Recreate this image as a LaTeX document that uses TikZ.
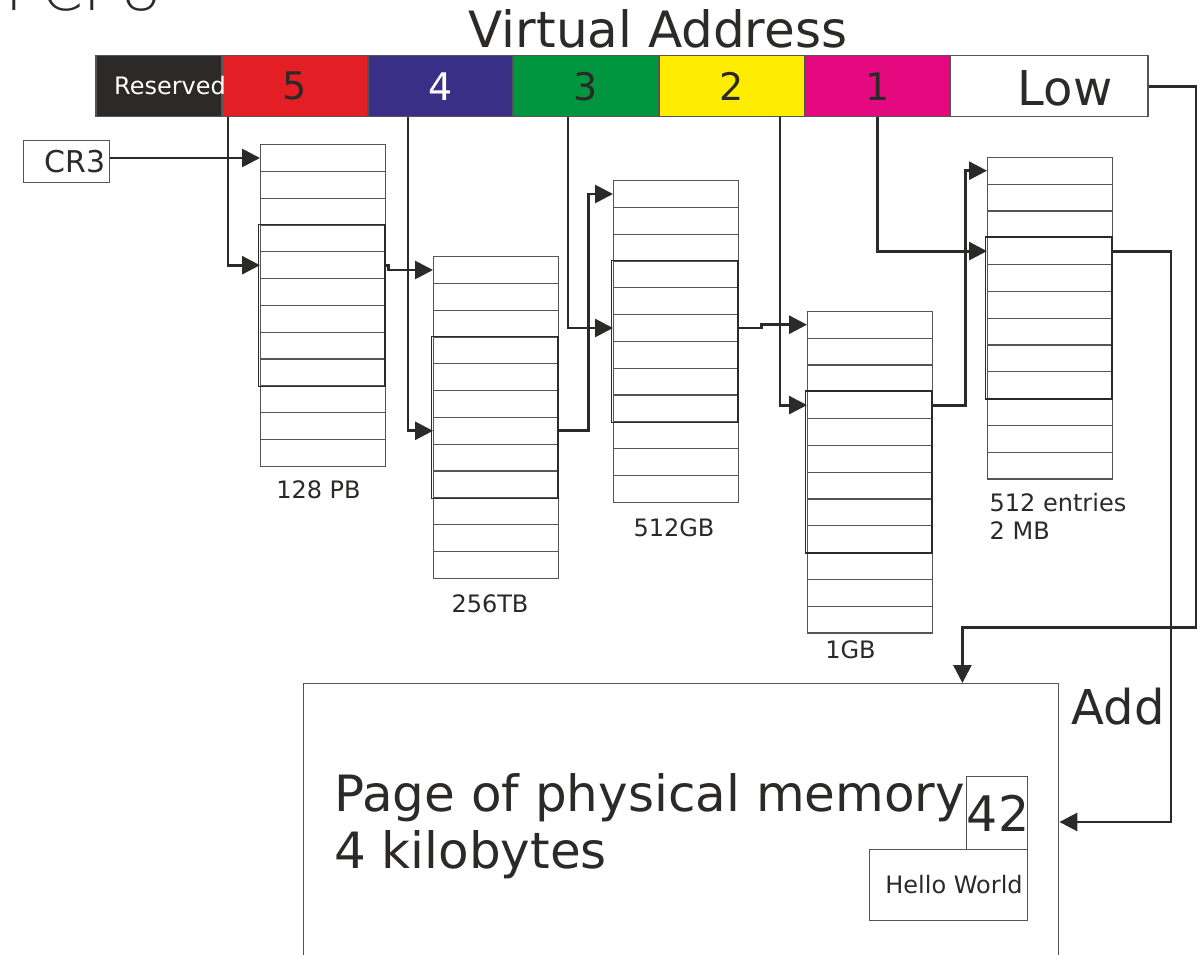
\documentclass[tikz,border=0pt]{standalone}
\usepackage{fontspec}
\setmainfont{DejaVu Sans}
\newfontfamily\thinfont{DejaVu Sans ExtraLight}
\usetikzlibrary{arrows.meta}

\definecolor{ink}{HTML}{2B2A29}
\definecolor{rule}{HTML}{555555}
\definecolor{lvlfive}{HTML}{E31E24}
\definecolor{lvlfour}{HTML}{3A2F86}
\definecolor{lvlthree}{HTML}{009640}
\definecolor{lvltwo}{HTML}{FFED00}
\definecolor{lvlone}{HTML}{E5097F}

\newcommand{\sz}[2]{\fontsize{#1}{#2}\selectfont}

\tikzset{
  seg/.style={draw=rule, line width=1.5pt, minimum height=61pt, inner sep=0pt, anchor=north west},
  entry/.style={draw=rule, line width=1.2pt, minimum width=125pt, minimum height=26.8pt, inner sep=0pt, anchor=north west},
  frame/.style={draw=ink, line width=1.5pt},
  conn/.style={draw=ink, line width=2.8pt, -{Triangle[length=18pt,width=18pt]}},
  box/.style={draw=rule, line width=1.4pt, inner sep=0pt, anchor=north west},
  lbl/.style={text=ink, inner sep=0pt, anchor=base},
}

\begin{document}
\begin{tikzpicture}[x=1pt, y=-1pt]
  \path[use as bounding box, fill=white] (0,0) rectangle (1202,955);

  % cut-off heading and title
  \node[lbl, anchor=base west] (head) at (5,11) {\thinfont\sz{60}{60}PCPU};
  \node[lbl] (title) at (658,48) {\sz{50}{50}Virtual Address};

  % the virtual address, one field per level
  \node[seg, fill=ink, minimum width=126pt] (res) at (95,55) {};
  \node[seg, fill=lvlfive, minimum width=146pt, text=ink] (f5) at (221,55) {\sz{38}{38}5};
  \node[seg, fill=lvlfour, minimum width=145pt, text=white] (f4) at (367,55) {\sz{38}{38}4};
  \node[seg, fill=lvlthree, minimum width=146pt, text=ink] (f3) at (512,55) {\sz{38}{38}3};
  \node[seg, fill=lvltwo, minimum width=146pt, text=ink] (f2) at (658,55) {\sz{38}{38}2};
  \node[seg, fill=lvlone, minimum width=145pt, text=ink] (f1) at (804,55) {\sz{38}{38}1};
  \node[seg, fill=white, minimum width=198pt] (low) at (949,55) {};
  \node[lbl, anchor=base west, text=white] (restext) at (114,95) {\sz{24}{24}Reserved};
  \node[lbl] (lowtext) at (1065,106) {\sz{48}{48}Low};

  % CR3
  \node[box, minimum width=86pt, minimum height=42pt, text width=78pt, inner xsep=4pt, align=right, text=ink] (cr3) at (23,140) {\sz{30}{30}CR3};

  % page tables, 12 entries each
  \foreach \t/\x/\y in {A/260/144, B/433/256, C/613/180, D/807/310.7, E/987/156.7} {
    \foreach \r in {1,...,12}
      \node[entry] (\t-\r) at (\x,{\y+26.8*(\r-1)}) {};
    \draw[frame] ([xshift=-1.3pt]\t-4.north west) rectangle ([xshift=-1.3pt]\t-9.south east);
  }

  \node[lbl] (sizeA) at (318.5,498) {\sz{24}{24}128 PB};
  \node[lbl] (sizeB) at (490,612) {\sz{24}{24}256TB};
  \node[lbl] (sizeC) at (674,536) {\sz{24}{24}512GB};
  \node[lbl] (sizeD) at (850.5,658) {\sz{24}{24}1GB};
  \node[lbl, anchor=base west] (sizeE) at (989.5,511) {\sz{24}{24}512 entries};
  \node[lbl, anchor=base west] (sizeEb) at (989.5,539) {\sz{24}{24}2 MB};

  % physical page
  \node[box, minimum width=755pt, minimum height=340pt] (page) at (303,683) {};
  \node[lbl, anchor=base west] (pagetext) at (334,811.7) {\sz{50}{50}Page of physical memory};
  \node[lbl, anchor=base west] (pagesize) at (334,868) {\sz{50}{50}4 kilobytes};
  \node[box, minimum width=61pt, minimum height=73pt] (cell) at (965.5,776) {};
  \node[lbl] (num) at (998,831) {\sz{49}{49}42};
  \node[box, minimum width=158pt, minimum height=71pt] (hello) at (869,849) {};
  \node[lbl] (hellotext) at (954,893) {\sz{24}{24}Hello World};
  \node[lbl] (add) at (1118,724) {\sz{48}{48}Add};

  % walk
  \coordinate (lowturn) at (1196,627.5);
  \coordinate (addturn) at (1171,822);
  \draw[conn] (cr3.east |- A-1.west) -- (A-1.west);
  \draw[conn] ([xshift=7pt]f5.south west) |- (A-5.west);
  \draw[conn] (A-5.east) -- ++(2,0) |- (B-1.west);
  \draw[conn] ([xshift=41pt]f4.south west) |- (B-7.west);
  \draw[conn] (B-7.east) -- ++(29,0) |- (C-1.west);
  \draw[conn] ([xshift=56pt]f3.south west) |- (C-6.west);
  \draw[conn] (C-6.east) -- ++(22,0) |- (D-1.west);
  \draw[conn] ([xshift=122pt]f2.south west) |- (D-4.west);
  \draw[conn] (D-4.east) -- ++(32,0) |- (E-1.west);
  \draw[conn] (f1.south) |- (E-4.west);
  \draw[conn] (E-4.east) -| (addturn) -- (addturn -| page.east);
  \draw[conn] (low.east) -| (lowturn) -| ([xshift=-97pt]page.north east);
\end{tikzpicture}
\end{document}
